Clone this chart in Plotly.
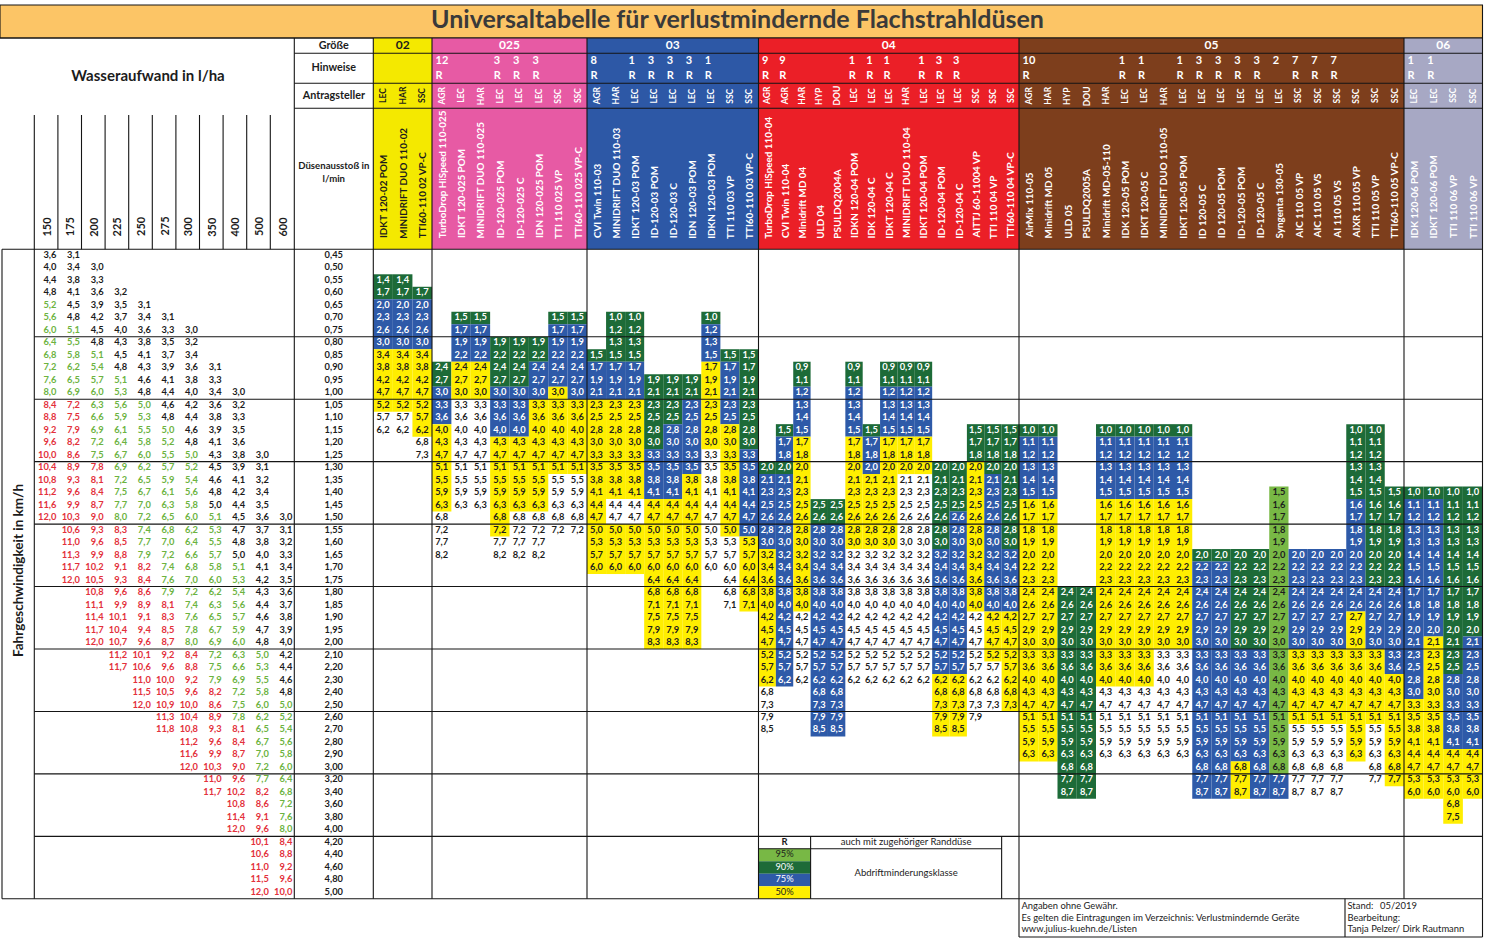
import plotly.graph_objects as go

# ------------------------------------------------------------------ data
TITLE = "Universaltabelle für verlustmindernde Flachstrahldüsen"

FLOWS = [0.45, 0.50, 0.55, 0.60, 0.65, 0.70, 0.75, 0.80, 0.85, 0.90, 0.95, 1.00,
         1.05, 1.10, 1.15, 1.20, 1.25, 1.30, 1.35, 1.40, 1.45, 1.50, 1.55, 1.60,
         1.65, 1.70, 1.75, 1.80, 1.85, 1.90, 1.95, 2.00, 2.10, 2.20, 2.30, 2.40,
         2.50, 2.60, 2.70, 2.80, 2.90, 3.00, 3.20, 3.40, 3.60, 3.80, 4.00, 4.20,
         4.40, 4.60, 4.80, 5.00]

WATER_RATES = [150, 175, 200, 225, 250, 275, 300, 350, 400, 500, 600]

# first water-rate column holding a speed value, per flow row
SPEED_FIRST_COL = [0, 0, 0, 0, 0, 0, 0, 0, 0, 0, 0, 0, 0, 0, 0, 0, 0, 0, 0, 0, 0, 0,
                   1, 1, 1, 1, 1, 2, 2, 2, 2, 2, 3, 3, 4, 4, 4, 5, 5, 6, 6, 6,
                   7, 7, 8, 8, 8, 9, 9, 9, 9, 9]
SPEED_VALS = [
    [3.6, 3.1], [4.0, 3.4, 3.0], [4.4, 3.8, 3.3], [4.8, 4.1, 3.6, 3.2],
    [5.2, 4.5, 3.9, 3.5, 3.1], [5.6, 4.8, 4.2, 3.7, 3.4, 3.1],
    [6.0, 5.1, 4.5, 4.0, 3.6, 3.3, 3.0],
    [6.4, 5.5, 4.8, 4.3, 3.8, 3.5, 3.2], [6.8, 5.8, 5.1, 4.5, 4.1, 3.7, 3.4],
    [7.2, 6.2, 5.4, 4.8, 4.3, 3.9, 3.6, 3.1], [7.6, 6.5, 5.7, 5.1, 4.6, 4.1, 3.8, 3.3],
    [8.0, 6.9, 6.0, 5.3, 4.8, 4.4, 4.0, 3.4, 3.0],
    [8.4, 7.2, 6.3, 5.6, 5.0, 4.6, 4.2, 3.6, 3.2], [8.8, 7.5, 6.6, 5.9, 5.3, 4.8, 4.4, 3.8, 3.3],
    [9.2, 7.9, 6.9, 6.1, 5.5, 5.0, 4.6, 3.9, 3.5], [9.6, 8.2, 7.2, 6.4, 5.8, 5.2, 4.8, 4.1, 3.6],
    [10.0, 8.6, 7.5, 6.7, 6.0, 5.5, 5.0, 4.3, 3.8, 3.0],
    [10.4, 8.9, 7.8, 6.9, 6.2, 5.7, 5.2, 4.5, 3.9, 3.1], [10.8, 9.3, 8.1, 7.2, 6.5, 5.9, 5.4, 4.6, 4.1, 3.2],
    [11.2, 9.6, 8.4, 7.5, 6.7, 6.1, 5.6, 4.8, 4.2, 3.4], [11.6, 9.9, 8.7, 7.7, 7.0, 6.3, 5.8, 5.0, 4.4, 3.5],
    [12.0, 10.3, 9.0, 8.0, 7.2, 6.5, 6.0, 5.1, 4.5, 3.6, 3.0],
    [10.6, 9.3, 8.3, 7.4, 6.8, 6.2, 5.3, 4.7, 3.7, 3.1], [11.0, 9.6, 8.5, 7.7, 7.0, 6.4, 5.5, 4.8, 3.8, 3.2],
    [11.3, 9.9, 8.8, 7.9, 7.2, 6.6, 5.7, 5.0, 4.0, 3.3], [11.7, 10.2, 9.1, 8.2, 7.4, 6.8, 5.8, 5.1, 4.1, 3.4],
    [12.0, 10.5, 9.3, 8.4, 7.6, 7.0, 6.0, 5.3, 4.2, 3.5],
    [10.8, 9.6, 8.6, 7.9, 7.2, 6.2, 5.4, 4.3, 3.6], [11.1, 9.9, 8.9, 8.1, 7.4, 6.3, 5.6, 4.4, 3.7],
    [11.4, 10.1, 9.1, 8.3, 7.6, 6.5, 5.7, 4.6, 3.8], [11.7, 10.4, 9.4, 8.5, 7.8, 6.7, 5.9, 4.7, 3.9],
    [12.0, 10.7, 9.6, 8.7, 8.0, 6.9, 6.0, 4.8, 4.0],
    [11.2, 10.1, 9.2, 8.4, 7.2, 6.3, 5.0, 4.2], [11.7, 10.6, 9.6, 8.8, 7.5, 6.6, 5.3, 4.4],
    [11.0, 10.0, 9.2, 7.9, 6.9, 5.5, 4.6], [11.5, 10.5, 9.6, 8.2, 7.2, 5.8, 4.8],
    [12.0, 10.9, 10.0, 8.6, 7.5, 6.0, 5.0],
    [11.3, 10.4, 8.9, 7.8, 6.2, 5.2], [11.8, 10.8, 9.3, 8.1, 6.5, 5.4],
    [11.2, 9.6, 8.4, 6.7, 5.6], [11.6, 9.9, 8.7, 7.0, 5.8], [12.0, 10.3, 9.0, 7.2, 6.0],
    [11.0, 9.6, 7.7, 6.4], [11.7, 10.2, 8.2, 6.8],
    [10.8, 8.6, 7.2], [11.4, 9.1, 7.6], [12.0, 9.6, 8.0],
    [10.1, 8.4], [10.6, 8.8], [11.0, 9.2], [11.5, 9.6], [12.0, 10.0],
]
# k = black, g = green, r = red
SPEED_TONE = [
    "kk", "kkk", "kkk", "kkkk", "gkkkk", "gkkkkk", "ggkkkkk",
    "ggkkkkk", "gggkkkk", "gggkkkkk", "ggggkkkk", "ggggkkkkk",
    "rrgggkkkk", "rrgggkkkk", "rrggggkkk", "rrggggkkk", "rrgggggkkk",
    "rrrggggkkk", "rrrggggkkk", "rrrggggkkk", "rrrggggkkk", "rrrgggggkkk",
    "rrrggggkkk", "rrrggggkkk", "rrrggggkkk", "rrrrggggkk", "rrrrggggkk",
    "rrrggggkk", "rrrrgggkk", "rrrrgggkk", "rrrrgggkk", "rrrrgggkk",
    "rrrrgggk", "rrrrgggk", "rrrgggk", "rrrrggk", "rrrrggg",
    "rrrggg", "rrrrgg", "rrrgg", "rrrgg", "rrrgg",
    "rrgg", "rrrg", "rrg", "rrg", "rrg",
    "rr", "rr", "rr", "rr", "rr",
]

# nozzle sizes; class runs: L=95 %, G=90 %, B=75 %, Y=50 %, W=no class
N02 = ["IDKT 120-02 POM", "MINIDRIFT DUO 110-02", "TTI60-110 02 VP-C"]
A02 = ["LEC", "HAR", "SSC"]
H02 = ["", "", ""]
S02 = [0.55, 0.55, 0.60]
C02 = ["G2 B4 Y5 W2", "G2 B4 Y5 W2", "G1 B4 Y7 W2"]
P02_FROM = 0.55
P02 = [1.4, 1.7, 2.0, 2.3, 2.6, 3.0, 3.4, 3.8, 4.2, 4.7, 5.2, 5.7, 6.2, 6.8, 7.3]

N025 = ["TurboDrop HiSpeed 110-025", "IDKT 120-025 POM", "MINIDRIFT DUO 110-025",
        "ID-120-025 POM", "ID-120-025 C", "IDN 120-025 POM", "TTI 110 025 VP",
        "TTI60-110 025 VP-C"]
A025 = ["AGR", "LEC", "HAR", "LEC", "LEC", "LEC", "SSC", "SSC"]
H025 = ["12 R", "", "", "3 R", "3 R", "3 R", "", ""]
S025 = [0.90, 0.70, 0.70, 0.80, 0.80, 0.80, 0.70, 0.70]
C025 = ["G2 B3 Y7 W4", "G1 B3 Y3 W9", "G1 B3 Y3 W9", "G4 B4 Y8 W2",
        "G4 B4 Y6 W4", "G2 B3 Y9 W4", "G1 B5 Y7 W5", "G1 B6 Y6 W5"]
P025_FROM = 0.70
P025 = [1.5, 1.7, 1.9, 2.2, 2.4, 2.7, 3.0, 3.3, 3.6, 4.0, 4.3, 4.7, 5.1, 5.5,
        5.9, 6.3, 6.8, 7.2, 7.7, 8.2]

N03 = ["CVI Twin 110-03", "MINIDRIFT DUO 110-03", "IDKT 120-03 POM", "ID-120-03 POM",
       "ID-120-03 C", "IDN 120-03 POM", "IDKN 120-03 POM", "TTI 110 03 VP",
       "TTI60-110 03 VP-C"]
A03 = ["AGR", "HAR", "LEC", "LEC", "LEC", "LEC", "LEC", "SSC", "SSC"]
H03 = ["8 R", "", "1 R", "3 R", "3 R", "3 R", "1 R", "", ""]
S03 = [0.85, 0.70, 0.70, 0.95, 0.95, 0.95, 0.70, 0.85, 0.85]
C03 = ["G1 B3 Y14", "G4 B3 Y8 W2 Y4", "G4 B3 Y8 W2 Y4", "G6 B4 Y12", "G4 B6 Y12",
       "G2 B6 Y14", "G1 B3 Y7 W10", "G1 B5 Y9 W6", "G8 B7 Y6"]
P03_FROM = 0.70
P03 = [1.0, 1.2, 1.3, 1.5, 1.7, 1.9, 2.1, 2.3, 2.5, 2.8, 3.0, 3.3, 3.5, 3.8, 4.1,
       4.4, 4.7, 5.0, 5.3, 5.7, 6.0, 6.4, 6.8, 7.1, 7.5, 7.9, 8.3]

N04 = ["TurboDrop HiSpeed 110-04", "CVI Twin 110-04", "Minidrift MD 04", "ULD 04",
       "PSULDQ2004A", "IDKN 120-04 POM", "IDK 120-04 C", "IDKT 120-04 C",
       "MINIDRIFT DUO 110-04", "IDKT 120-04 POM", "ID-120-04 POM", "ID-120-04 C",
       "AITTJ 60-11004 VP", "TTI 110 04 VP", "TTI60-110 04 VP-C"]
A04 = ["AGR", "AGR", "HAR", "HYP", "DOU", "LEC", "LEC", "LEC", "HAR", "LEC", "LEC",
       "LEC", "SSC", "SSC", "SSC"]
H04 = ["9 R", "9 R", "", "", "", "1 R", "1 R", "1 R", "", "1 R", "3 R", "3 R", "", "", ""]
S04 = [1.30, 1.15, 0.90, 1.45, 1.45, 0.90, 1.15, 0.90, 0.90, 0.90, 1.30, 1.30,
       1.15, 1.15, 1.15]
C04 = ["G1 B6 Y11 W4", "G1 B2 G1 B17", "G2 B4 Y14 W6", "G2 B17", "G2 B17",
       "G2 B4 Y9 W11", "G1 B3 Y6 W11", "G2 B4 Y9 W11", "G2 B4 Y3 W17",
       "G2 B4 Y3 W17", "G7 B10 Y5", "G4 B13 Y5", "G3 Y12 W9", "G4 B11 Y4 W4",
       "G10 B5 Y8"]
P04_FROM = 0.90
P04 = [0.9, 1.1, 1.2, 1.3, 1.4, 1.5, 1.7, 1.8, 2.0, 2.1, 2.3, 2.5, 2.6, 2.8, 3.0,
       3.2, 3.4, 3.6, 3.8, 4.0, 4.2, 4.5, 4.7, 5.2, 5.7, 6.2, 6.8, 7.3, 7.9, 8.5]

N05 = ["AirMix 110-05", "Minidrift MD 05", "ULD 05", "PSULDQ2005A",
       "Minidrift MD-05-110", "IDK 120-05 POM", "IDKT 120-05 C",
       "MINIDRIFT DUO 110-05", "IDKT 120-05 POM", "ID 120-05 C", "ID 120-05 POM",
       "ID-120-05 POM", "ID-120-05 C", "Syngenta 130-05", "AIC 110 05 VP",
       "AIC 110 05 VS", "AI 110 05 VS", "AIXR 110 05 VP", "TTI 110 05 VP",
       "TTI60-110 05 VP-C"]
A05 = ["AGR", "HAR", "HYP", "DOU", "HAR", "LEC", "LEC", "HAR", "LEC", "LEC", "LEC",
       "LEC", "LEC", "LEC", "SSC", "SSC", "SSC", "SSC", "SSC", "SSC"]
H05 = ["10 R", "", "", "", "", "1 R", "1 R", "", "1 R", "3 R", "3 R", "3 R", "3 R",
       "2", "7 R", "7 R", "7 R", "", "", ""]
S05 = [1.15, 1.15, 1.80, 1.80, 1.15, 1.15, 1.15, 1.15, 1.15, 1.65, 1.65, 1.65,
       1.65, 1.40, 1.65, 1.65, 1.65, 1.15, 1.15, 1.40]
C05 = ["G1 B5 Y21", "G1 B5 Y21", "G17", "G17", "G1 B5 Y15 W6", "G1 B5 Y15 W6",
       "G1 B5 Y15 W6", "G1 B5 Y12 W9", "G1 B5 Y12 W9", "G1 B19", "G1 B19",
       "G8 B9 Y3", "G8 B12", "L23 B2", "B8 Y6 W6", "B8 Y6 W6", "B8 Y6 W6",
       "G6 B9 Y12", "G13 B5 Y6 W5", "G8 B7 Y9"]
P05_FROM = 1.15
P05 = [1.0, 1.1, 1.2, 1.3, 1.4, 1.5, 1.6, 1.7, 1.8, 1.9, 2.0, 2.2, 2.3, 2.4, 2.6,
       2.7, 2.9, 3.0, 3.3, 3.6, 4.0, 4.3, 4.7, 5.1, 5.5, 5.9, 6.3, 6.8, 7.7, 8.7]

N06 = ["IDK 120-06 POM", "IDKT 120-06 POM", "TTI 110 06 VP", "TTI 110 06 VP"]
A06 = ["LEC", "LEC", "SSC", "SSC"]
H06 = ["1 R", "1 R", "", ""]
S06 = [1.40, 1.40, 1.40, 1.40]
C06 = ["G1 B16 Y8", "G1 B11 Y13", "G15 B6 Y6", "G12 B9 Y4"]
P06_FROM = 1.40
P06 = [1.0, 1.1, 1.2, 1.3, 1.3, 1.4, 1.5, 1.6, 1.7, 1.8, 1.9, 2.0, 2.1, 2.3, 2.5,
       2.8, 3.0, 3.3, 3.5, 3.8, 4.1, 4.4, 4.7, 5.3, 6.0, 6.8, 7.5]

SIZE_LABELS = ["02", "025", "03", "04", "05", "06"]

LEGEND_CODES = ["L", "G", "B", "Y"]
LEGEND_LABELS = ["95%", "90%", "75%", "50%"]

FOOT_LEFT = ["Angaben ohne Gewähr.",
             "Es gelten die Eintragungen im Verzeichnis: Verlustmindernde Geräte",
             "www.julius-kuehn.de/Listen"]
FOOT_RIGHT = ["Stand:", "Bearbeitung:", "Tanja Pelzer/ Dirk Rautmann"]
FOOT_DATE = "05/2019"

# ------------------------------------------------------------------ style / geometry
W, H = 1487, 940
FONT = "Lato"
INK = "#1c1c1c"
LINE_C = "#151515"
Y_T0, Y_T1 = 5, 38
Y_HINT0, Y_APPL0, Y_NAME0 = 53.3, 83.3, 108.3
Y_DATA0 = 249.3
ROW_H = 12.49
X_L0 = 2.0
X_SP0 = 34.3
SP_W = 23.6
X_FL0 = 294.3
X_FL1 = 373.3
SEC_EDGES = [373.3, 432.0, 587.0, 758.5, 1019.0, 1404.0, 1482.5]
SEC_FILL = ["#F4E900", "#E75AA4", "#2D58A6", "#EB1F27", "#7D3E1C", "#A7A8C4"]
SEC_INK = ["#1c1c1c", "white", "white", "white", "white", "white"]
CLASS_FILL = {"L": "#78B845", "G": "#1D6B38", "B": "#2E5AA8", "Y": "#FFEE00", "W": "#FFFFFF"}
CLASS_INK = {"L": "#1c1c1c", "G": "#FFFFFF", "B": "#FFFFFF", "Y": "#1c1c1c", "W": "#1c1c1c"}
TONE = {"k": "#1c1c1c", "g": "#6CB33F", "r": "#E3303B"}
GROUP_BREAKS = [7, 12, 17, 22, 27, 32, 37, 42, 47]
VAL_SIZE = 9.3

ROW_OF = {round(f, 2): i for i, f in enumerate(FLOWS)}


def rtop(i):
    return Y_DATA0 + i * ROW_H


def rmid(i):
    return Y_DATA0 + (i + 0.5) * ROW_H


def de(v, nd=1):
    return f"{v:.{nd}f}".replace(".", ",")


shapes = []
annots = []
groups = {}


def rect(x0, y0, x1, y1, fill, lw=0, lc=LINE_C):
    shapes.append(dict(type="rect", xref="x", yref="y", x0=x0, x1=x1, y0=y0, y1=y1,
                       fillcolor=fill, layer="below",
                       line=dict(width=lw, color=lc if lw else fill)))


def line(x0, y0, x1, y1, w=1.1):
    shapes.append(dict(type="line", xref="x", yref="y", x0=x0, x1=x1, y0=y0, y1=y1,
                       layer="below", line=dict(width=w, color=LINE_C)))


def txt(x, y, t, color=INK, size=9, weight="bold", pos="middle center"):
    key = (size, weight, pos)
    g = groups.setdefault(key, dict(x=[], y=[], t=[], c=[]))
    g["x"].append(x)
    g["y"].append(y)
    g["t"].append(t)
    g["c"].append(color)


def vtxt(x, y, t, color=INK, size=9, yanchor="middle", weight="bold"):
    annots.append(dict(x=x, y=y, xref="x", yref="y", text=t, showarrow=False,
                       textangle=-90, xanchor="center", yanchor=yanchor,
                       font=dict(family=FONT, size=size, color=color, weight=weight)))


def runs(spec):
    return [(tok[0], int(tok[1:])) for tok in spec.split()]


# ---- title bar
rect(0, Y_T0, SEC_EDGES[-1], Y_T1, "#FCC566", lw=1.1)
txt((422 + 1053) / 2, 22, TITLE, color="#3a3a3a", size=25)

# ---- left header
txt(148, 77, "Wasseraufwand in l/ha", size=15)
for k, v in enumerate(WATER_RATES):
    vtxt(X_SP0 + (k + 0.5) * SP_W, 226.5, str(v), size=11)
vtxt(18, 571, "Fahrgeschwindigkeit in km/h", size=13.5)
txt((X_FL0 + X_FL1) / 2, 46, "Größe", size=10.8)
txt((X_FL0 + X_FL1) / 2, 68.5, "Hinweise", size=10.8)
txt((X_FL0 + X_FL1) / 2, 96, "Antragsteller", size=10.8)
txt((X_FL0 + X_FL1) / 2, 167, "Düsenausstoß in", size=9.6)
txt((X_FL0 + X_FL1) / 2, 180, "l/min", size=9.6)

# ---- speed table + flow column
for i, f in enumerate(FLOWS):
    txt((X_FL0 + X_FL1) / 2, rmid(i), de(f, 2), size=VAL_SIZE)
    c0 = SPEED_FIRST_COL[i]
    for j, (v, tone) in enumerate(zip(SPEED_VALS[i], SPEED_TONE[i])):
        k = c0 + j
        txt(X_SP0 + (k + 1) * SP_W - 1.5, rmid(i), de(v), color=TONE[tone], size=VAL_SIZE,
            pos="middle left")

# ---- nozzle sections
SECTIONS = [
    (N02, A02, H02, S02, C02, P02_FROM, P02),
    (N025, A025, H025, S025, C025, P025_FROM, P025),
    (N03, A03, H03, S03, C03, P03_FROM, P03),
    (N04, A04, H04, S04, C04, P04_FROM, P04),
    (N05, A05, H05, S05, C05, P05_FROM, P05),
    (N06, A06, H06, S06, C06, P06_FROM, P06),
]
col_x = []
for s, (names, appl, hints, starts, classes, p_from, pvals) in enumerate(SECTIONS):
    x0s, x1s = SEC_EDGES[s], SEC_EDGES[s + 1]
    n = len(names)
    cw = (x1s - x0s) / n
    rect(x0s, Y_T1, x1s, Y_DATA0, SEC_FILL[s])
    txt((x0s + x1s) / 2, 46, SIZE_LABELS[s], color=SEC_INK[s], size=12)
    cols = []
    p0 = ROW_OF[round(p_from, 2)]
    for j in range(n):
        cx0 = x0s + j * cw
        cx1 = cx0 + cw
        cm = (cx0 + cx1) / 2
        cols.append((cx0, cx1))
        hint = hints[j].split()
        if hint:
            txt(cx0 + 3.5, 61.5, hint[0], color=SEC_INK[s], size=11, pos="middle right")
        if len(hint) > 1:
            txt(cx0 + 3.5, 76.5, hint[1], color=SEC_INK[s], size=11, pos="middle right")
        vtxt(cm, 95.8, appl[j], color=SEC_INK[s], size=8.5)
        vtxt(cm, 240.5, names[j], color=SEC_INK[s], size=9.9, yanchor="bottom")
        r = ROW_OF[round(starts[j], 2)]
        for code, cnt in runs(classes[j]):
            if code != "W":
                rect(cx0, rtop(r), cx1, rtop(r + cnt), CLASS_FILL[code])
            for q in range(r, r + cnt):
                txt(cm, rmid(q), de(pvals[q - p0]), color=CLASS_INK[code], size=VAL_SIZE)
            r += cnt
    col_x.append(cols)

# ---- legend (inside 04 block, bottom rows)
c04 = col_x[3]
lx0, lx1, lx2 = c04[0][0], c04[2][1], c04[13][1]
lr = GROUP_BREAKS[-1]
txt((lx0 + lx1) / 2, rmid(lr), "R", size=9.5)
txt((lx1 + lx2) / 2, rmid(lr), "auch mit zugehöriger Randdüse", size=9.5, weight="normal")
for k, (code, lab) in enumerate(zip(LEGEND_CODES, LEGEND_LABELS)):
    rr = lr + 1 + k
    rect(lx0, rtop(rr), lx1, rtop(rr + 1), CLASS_FILL[code])
    txt((lx0 + lx1) / 2, rmid(rr), lab, color=CLASS_INK[code], size=9.3, weight="normal")
txt((lx1 + lx2) / 2, (rtop(lr + 1) + rtop(lr + 5)) / 2, "Abdriftminderungsklasse", size=9.5,
    weight="normal")

# ---- grid lines
y_end = rtop(len(FLOWS))
line(0, Y_T1, SEC_EDGES[-1], Y_T1)
for yy in (Y_HINT0, Y_APPL0, Y_NAME0):
    line(X_FL0, yy, SEC_EDGES[-1], yy)
line(X_L0, Y_DATA0, SEC_EDGES[-1], Y_DATA0)
for b in GROUP_BREAKS:
    line(X_SP0, rtop(b), SEC_EDGES[-1], rtop(b))
line(X_L0, y_end, SEC_EDGES[-1], y_end)
line(X_L0, Y_DATA0, X_L0, y_end)
line(X_SP0, 115, X_SP0, y_end)
for k in range(1, len(WATER_RATES)):
    line(X_SP0 + k * SP_W, 115, X_SP0 + k * SP_W, Y_DATA0)
line(X_FL0, Y_T1, X_FL0, y_end)
for e in SEC_EDGES:
    line(e, Y_T1, e, y_end)
line(lx1, rtop(lr), lx1, y_end)
line(lx2, rtop(lr), lx2, y_end)
line(lx0, rtop(lr + 1), lx2, rtop(lr + 1))

# ---- footer
fx0, fx1, fx2 = SEC_EDGES[4], 1345.0, SEC_EDGES[-1]
line(fx0, y_end, fx0, 937)
line(fx1, y_end, fx1, 937)
line(fx2, y_end, fx2, 937)
line(fx0, 937, fx2, 937)
for k, t in enumerate(FOOT_LEFT):
    txt(fx0 + 2.5, 906.5 + k * 11.8, t, size=9.4, weight="normal", pos="middle right")
for k, t in enumerate(FOOT_RIGHT):
    txt(fx1 + 2.5, 906.5 + k * 11.8, t, size=9.4, weight="normal", pos="middle right")
txt(fx1 + 35, 906.5, FOOT_DATE, size=9.4, weight="normal", pos="middle right")

# ------------------------------------------------------------------ figure
fig = go.Figure()
for (size, weight, pos), g in groups.items():
    fig.add_trace(go.Scatter(
        x=g["x"], y=g["y"], text=g["t"], mode="text", textposition=pos,
        textfont=dict(family=FONT, size=size, color=g["c"], weight=weight),
        hoverinfo="skip", showlegend=False, cliponaxis=False))

fig.update_layout(
    width=W, height=H, margin=dict(l=0, r=0, t=0, b=0),
    paper_bgcolor="white", plot_bgcolor="white",
    xaxis=dict(range=[0, W], visible=False, fixedrange=True),
    yaxis=dict(range=[H, 0], visible=False, fixedrange=True),
    shapes=shapes, annotations=annots, showlegend=False, hovermode=False,
)
fig.write_html("out.html", config={"displayModeBar": False},
               post_script="document.body.style.margin='0';")
